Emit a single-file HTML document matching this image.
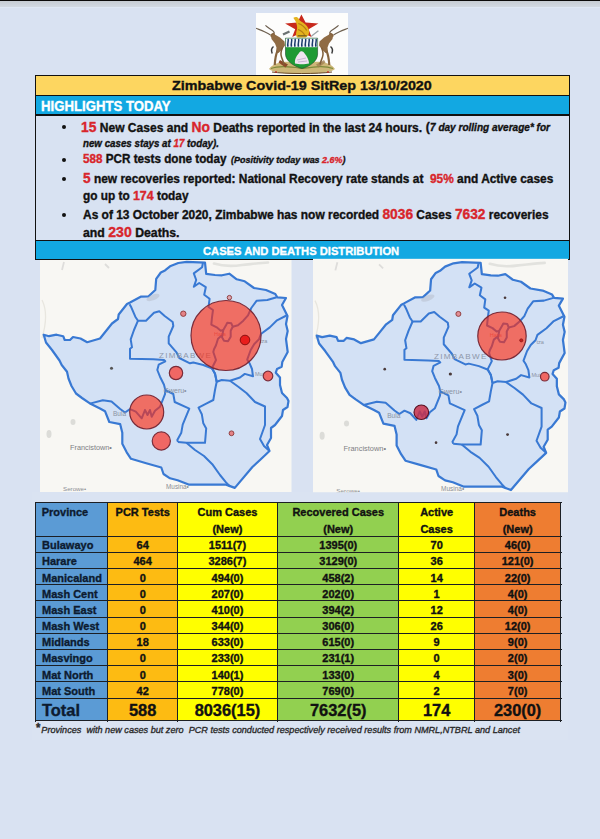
<!DOCTYPE html>
<html><head><meta charset="utf-8"><style>
html,body{margin:0;padding:0}
body{width:600px;height:839px;position:relative;overflow:hidden;background:#d9e2f2;font-family:"Liberation Sans",sans-serif;font-weight:bold}
.b{position:absolute}
.t{position:absolute;white-space:nowrap;transform-origin:0 0;-webkit-text-stroke:0.35px currentColor}
.t span span{-webkit-text-stroke:0.35px currentColor}
</style></head><body>
<div class="b" style="left:0;top:0;width:600px;height:1.2px;background:#0b0b0b"></div>
<div class="b" style="left:0;top:1.2px;width:600px;height:5.8px;background:linear-gradient(#c6ccd3,#d2d9e3)"></div>
<div class="b" style="left:0;top:7px;width:600px;height:1px;background:#dfe8f5"></div>
<div class="b" style="left:255.5px;top:13.3px;width:92.5px;height:62px;background:#fdfdfc"></div>
<svg class="b" style="left:255px;top:12px" width="95" height="64" viewBox="0 0 95 64">
<g transform="translate(-255,-12)">
<!-- base scroll -->
<path d="M269,69 C273,63 283,61 292,62 L312,62 C322,61 331,63 335,69 C331,72.5 320,74 302,74 C284,74 273,72.5 269,69 Z" fill="#cdb778"/>
<path d="M271,68.5 C280,65 292,67 302,68.5 C313,67 324,65 333,68.5" stroke="#7d8a3a" stroke-width="1.2" fill="none"/>
<path d="M272,72 C285,74 318,74 332,72" stroke="#6a4a2a" stroke-width="1" fill="none"/>
<path d="M280,60 L288,64.5 L285.5,67.5 L278.5,62.5 Z" fill="#8e4a2a"/>
<path d="M324,60 L316,64.5 L318.5,67.5 L325.5,62.5 Z" fill="#a08050" opacity="0.8"/>
<circle cx="276" cy="72" r="0.9" fill="#c0302a"/><circle cx="328" cy="72" r="0.9" fill="#c0302a"/>
<g>
<path d="M338.6,25.4 C336.5,27 334,29 331.5,30.5 C330.5,31.3 330,32 329.6,33.2" stroke="#6e6050" stroke-width="1.15" fill="none"/>
<path d="M347.9,28.3 C345,29.5 342.5,30.3 339.5,31.8 C337.5,32.8 335.5,33.8 333.5,35" stroke="#6e6050" stroke-width="1.15" fill="none"/>
<ellipse cx="331.3" cy="35" rx="2.6" ry="1.7" transform="rotate(35 331.3 35)" fill="#84633f"/>
<path d="M333,36 L330,34 L324,37.5 L319.5,41.5 L319,45.5 L322,49.5 L325.5,53 L328,52 L327.5,47.5 L329,43.5 L332.5,39 Z" fill="#8f6b44"/>
<path d="M326.5,51 C328,54 328.8,58 329.3,65" stroke="#86643e" stroke-width="2.2" fill="none"/>
<path d="M321.5,47.5 C322.5,50 324,53 322.5,57 C321.5,60 320.5,62 320,64.5" stroke="#7f5e3a" stroke-width="1.5" fill="none"/>
<path d="M330.5,46.5 C332.5,48 332.8,51 331.8,53.5" stroke="#3a3a3a" stroke-width="1.5" fill="none"/>
</g>
<g transform="translate(604,0) scale(-1,1)">
<path d="M338.6,25.4 C336.5,27 334,29 331.5,30.5 C330.5,31.3 330,32 329.6,33.2" stroke="#6e6050" stroke-width="1.15" fill="none"/>
<path d="M347.9,28.3 C345,29.5 342.5,30.3 339.5,31.8 C337.5,32.8 335.5,33.8 333.5,35" stroke="#6e6050" stroke-width="1.15" fill="none"/>
<ellipse cx="331.3" cy="35" rx="2.6" ry="1.7" transform="rotate(35 331.3 35)" fill="#84633f"/>
<path d="M333,36 L330,34 L324,37.5 L319.5,41.5 L319,45.5 L322,49.5 L325.5,53 L328,52 L327.5,47.5 L329,43.5 L332.5,39 Z" fill="#8f6b44"/>
<path d="M326.5,51 C328,54 328.8,58 329.3,65" stroke="#86643e" stroke-width="2.2" fill="none"/>
<path d="M321.5,47.5 C322.5,50 324,53 322.5,57 C321.5,60 320.5,62 320,64.5" stroke="#7f5e3a" stroke-width="1.5" fill="none"/>
<path d="M330.5,46.5 C332.5,48 332.8,51 331.8,53.5" stroke="#3a3a3a" stroke-width="1.5" fill="none"/>
</g>
<!-- hoe & rifle -->
<path d="M283,34.5 L289.5,31.5" stroke="#6c7272" stroke-width="2.4" fill="none"/>
<path d="M311.3,36.3 L318.4,30.8" stroke="#9aa2a6" stroke-width="1.3" fill="none"/>
<!-- star -->
<polygon points="301.4,14.5 305.6,22.6 318.4,23.5 308.6,29.2 311.5,37 301.8,32.5 292.2,37 295.2,29.2 285.1,23.5 297.4,22.6" fill="#c8291c"/>
<!-- bird -->
<g transform="translate(301.4,0) scale(1.3,1) translate(-301.4,0)">
<path d="M295.3,17.8 C296.5,16.5 298.5,16.6 299.2,18.5 C299.6,20 300.5,21 302.5,22.5 C305,24.5 307,27.5 307.3,31 C307.5,34 306.5,36.5 304.5,37.5 L298,37.5 C296.8,35.5 297.2,32.5 298,29.5 C298.4,27 297.8,24 297,21.5 C296.5,20 295.5,19 295.3,17.8 Z" fill="#e4b31e"/>
<path d="M299,23.5 C301.5,24.5 304,27 305.5,30.5 M298.8,29.5 C301,30.5 303,32.5 304,35.5" stroke="#b47c14" stroke-width="0.9" fill="none"/>
<path d="M298.5,35.8 L305.5,35.8" stroke="#6e5a1e" stroke-width="1.2"/>
</g>
<!-- shield -->
<path d="M285.5,38.2 L317.6,38.2 L317.6,54 C317.6,61 310,66.5 302,68.4 C294,66.5 285.5,61 285.5,54 Z" fill="#1e9a34" stroke="#1a4a2a" stroke-width="0.6"/>
<rect x="285.8" y="38.5" width="31.5" height="8.7" fill="#f2f6fa"/>
<path d="M288,38.8 c1.1,2 -1.1,4 0,8 M291.5,38.8 c1.1,2 -1.1,4 0,8 M295,38.8 c1.1,2 -1.1,4 0,8 M298.5,38.8 c1.1,2 -1.1,4 0,8 M302,38.8 c1.1,2 -1.1,4 0,8 M305.5,38.8 c1.1,2 -1.1,4 0,8 M309,38.8 c1.1,2 -1.1,4 0,8 M312.5,38.8 c1.1,2 -1.1,4 0,8 M316,38.8 c1.1,2 -1.1,4 0,8" stroke="#1b3a6c" stroke-width="1.5" fill="none"/>
<path d="M295,63.5 C294.5,59 296.5,56 299,53 C300,51 302,50.5 303.5,52 C306,55 309,59 309,63.5 C305,64.5 299,64.5 295,63.5 Z" fill="#eee4f0"/>
<path d="M297,60 L306,58 M298,62 L307,61" stroke="#b8a0c8" stroke-width="0.7"/>
</g>
</svg>

<!-- highlights box -->
<div class="b" style="left:35.3px;top:75.3px;width:534px;height:184px;background:#d8e2f2"></div>
<div class="b" style="left:35.3px;top:75.3px;width:534px;height:19.5px;background:#fdd660"></div>
<div class="b" style="left:35.3px;top:95.5px;width:534px;height:19px;background:#12a8e2"></div>
<div class="b" style="left:35.3px;top:241px;width:534px;height:17.8px;background:#12a8e2"></div>
<div class="b" style="left:34.8px;top:74.6px;width:535px;height:1.5px;background:#111"></div>
<div class="b" style="left:34.8px;top:94.6px;width:535px;height:1.3px;background:#111"></div>
<div class="b" style="left:34.8px;top:114.4px;width:535px;height:1.3px;background:#111"></div>
<div class="b" style="left:34.8px;top:240.2px;width:535px;height:1.3px;background:#111"></div>
<div class="b" style="left:34.8px;top:258.6px;width:535px;height:1.4px;background:#111"></div>
<div class="b" style="left:34.8px;top:74.6px;width:1.5px;height:185.4px;background:#111"></div>
<div class="b" style="left:568.5px;top:74.6px;width:1.5px;height:185.4px;background:#111"></div>
<div class="b" style="left:62.2px;top:125.2px;width:4.2px;height:4.2px;border-radius:50%;background:#111"></div>
<div class="b" style="left:61.9px;top:158.1px;width:4.2px;height:4.2px;border-radius:50%;background:#111"></div>
<div class="b" style="left:62.2px;top:176.7px;width:4.2px;height:4.2px;border-radius:50%;background:#111"></div>
<div class="b" style="left:62.2px;top:212.5px;width:4.2px;height:4.2px;border-radius:50%;background:#111"></div>
<div class="b" style="left:32px;top:492px;width:536px;height:248px;background:#dae3f2"></div>
<svg class="b" style="left:0;top:0" width="600" height="839" viewBox="0 0 600 839">
<svg x="40" y="260" width="251.5" height="232" viewBox="40 260 251.5 232" preserveAspectRatio="none"><rect x="40" y="258" width="252" height="234" fill="#f8f7f3"/>
<path d="M214,263.5 C222,266 232,266.5 242,265 C252,264 260,263 268,262.5" stroke="#e2e2de" stroke-width="2.6" fill="none" stroke-linecap="round"/>
<path d="M42,300 C48,312 45,328 42,338" stroke="#e8e6df" stroke-width="1.3" fill="none"/>
<ellipse cx="49" cy="434" rx="2.5" ry="4" fill="#dcdcd8"/>
<ellipse cx="73" cy="422" rx="2.5" ry="3" fill="#dcdcd8"/>
<path d="M64,262 L62,270 M105,264 L109,268" stroke="#dedddb" stroke-width="1.8"/>
<polygon points="43.7,334.7 49.0,336.2 56.5,334.7 63.2,336.2 64.7,340.0 70.0,340.0 73.0,337.0 80.5,338.5 87.2,342.2 100.0,338.5 106.0,331.0 112.0,323.5 118.0,319.0 118.7,314.5 127.0,304.0 130.0,302.5 140.7,296.7 148.3,296.5 155.3,290.0 156.2,278.8 160.8,272.5 165.0,270.4 170.0,266.3 178.3,263.0 186.7,261.8 205.0,262.6 206.2,273.8 215.0,275.0 222.0,275.3 229.3,273.7 236.7,279.3 244.7,281.3 254.0,288.0 266.0,290.0 275.3,294.0 277.3,297.3 286.0,298.0 282.0,305.0 287.5,316.0 286.0,324.0 287.7,331.0 286.0,339.0 287.7,352.0 282.3,362.0 281.7,366.7 277.0,369.0 275.8,372.7 280.0,377.5 280.0,385.0 282.0,393.0 287.0,398.0 288.5,401.0 287.5,407.0 283.0,410.0 282.0,416.0 275.0,425.0 271.0,428.0 271.0,438.0 267.0,445.0 269.5,451.0 260.0,460.0 252.4,467.0 234.8,487.9 226.0,484.6 204.0,484.6 188.6,484.6 177.6,480.2 170.0,478.3 163.5,474.0 161.3,467.5 146.2,463.2 131.0,458.8 126.7,452.3 122.3,443.7 122.3,432.8 120.2,424.2 109.3,422.0 105.0,411.2 100.0,408.5 89.5,403.2 82.0,398.0 76.0,393.5 71.5,386.0 68.5,378.5 67.0,371.7 61.7,365.0 59.5,360.5 52.0,350.0 46.0,342.5" fill="#d3e1f5" stroke="#3979d3" stroke-width="2.2" stroke-linejoin="round"/>
<ellipse cx="153" cy="297.5" rx="7" ry="2.8" transform="rotate(-22 153 297.5)" fill="#b8c0cc" opacity="0.55"/>
<polyline points="129.6,304.2 131.3,307.3 135.3,316.7 138.0,320.7 146.0,320.7 154.0,312.7 159.3,311.3 164.7,316.0 172.7,322.0 173.3,326.0 168.7,336.7 168.7,343.3 176.7,352.7 179.3,358.0 190.0,363.3 193.3,362.5 203.3,365.0 211.7,368.3 215.0,373.3 216.7,381.7" fill="none" stroke="#3979d3" stroke-width="2.0" stroke-linejoin="round"/>
<polyline points="138.0,320.7 134.0,330.0 130.7,339.3 132.0,347.3 130.0,348.7 130.0,358.7 153.3,359.3 164.0,360.0 165.3,361.3 158.7,364.7 157.3,370.0 160.0,376.7 164.0,384.7 165.3,390.0 165.0,394.2 161.7,402.5 160.0,406.7 155.0,410.8 151.7,416.7 150.0,410.0 147.5,415.0 145.0,410.0 141.7,418.3 135.8,411.7 130.0,409.2 125.0,412.5 120.2,409.0 111.5,401.4 102.8,400.3 89.8,403.6" fill="none" stroke="#3979d3" stroke-width="2.0" stroke-linejoin="round"/>
<polyline points="202.9,263.0 202.1,267.2 193.8,273.4 196.2,280.0 193.8,286.8 199.2,283.0 205.8,287.2 204.2,294.7 209.6,298.8 208.5,307.0 213.0,310.0 212.0,317.3 211.3,324.7 216.7,327.3 220.7,330.7 223.3,330.0" fill="none" stroke="#3979d3" stroke-width="2.0" stroke-linejoin="round"/>
<polyline points="223.3,330.0 226.0,325.3 227.3,322.7 231.3,323.3 232.7,326.7 230.7,330.7 230.7,336.7 228.0,341.3 224.0,340.7 222.0,337.3 222.7,333.3 223.3,330.0" fill="none" stroke="#3979d3" stroke-width="2.0" stroke-linejoin="round"/>
<polyline points="222.0,335.3 218.0,338.7 216.0,345.3 214.0,349.3 213.3,352.0 216.0,360.0 212.0,368.0 215.0,374.0 216.7,381.7" fill="none" stroke="#3979d3" stroke-width="2.0" stroke-linejoin="round"/>
<polyline points="232.7,326.7 238.0,325.3 243.3,320.7 248.0,315.3 251.3,308.0 256.7,300.7 267.3,300.0 276.7,297.3" fill="none" stroke="#3979d3" stroke-width="2.0" stroke-linejoin="round"/>
<polyline points="286.5,315.5 277.0,320.3 269.8,327.4 260.9,334.0 259.0,339.3 254.3,344.0 250.7,350.0 247.2,359.6 249.5,363.2 252.0,369.0 253.0,376.3 244.8,373.9 240.0,377.5 230.0,380.8 221.7,380.0 216.7,381.7" fill="none" stroke="#3979d3" stroke-width="2.0" stroke-linejoin="round"/>
<polyline points="216.7,381.7 215.0,390.0 213.3,400.0 206.7,403.3 198.5,407.6 201.8,414.2 203.3,423.3 206.2,428.5 205.0,442.8 186.4,442.8 178.0,442.0" fill="none" stroke="#3979d3" stroke-width="2.0" stroke-linejoin="round"/>
<polyline points="186.4,442.8 195.0,450.0 204.0,456.0 212.8,464.8 220.0,475.0 226.0,482.4 230.0,486.5" fill="none" stroke="#3979d3" stroke-width="2.0" stroke-linejoin="round"/>
<polyline points="165.3,390.0 173.3,394.0 174.7,402.0 189.3,408.7 182.7,424.7 181.3,432.7 177.3,440.0 178.0,442.0" fill="none" stroke="#3979d3" stroke-width="2.0" stroke-linejoin="round"/>
<polyline points="230.0,380.8 238.3,386.7 246.7,393.3 255.0,402.0 265.0,406.5 265.0,425.0 260.0,439.0 264.0,446.0 269.5,451.0" fill="none" stroke="#3979d3" stroke-width="2.0" stroke-linejoin="round"/>
<g font-family="Liberation Sans" font-weight="normal" fill="#8d8f93">
<text x="159" y="358" font-size="8" fill="#8e98aa" letter-spacing="1.3">ZIMBABWE</text>
<text x="70" y="449.5" font-size="7.3" fill="#7e8084">Francistown•</text>
<text x="63" y="491" font-size="6.2">Serowe•</text>
<text x="166" y="489" font-size="6.4">Musina•</text>
<text x="163.5" y="392.5" font-size="7" fill="#8a93a3">Gweru•</text>
<text x="113" y="416" font-size="6.5" fill="#8a93a3">Bula</text>
<text x="260" y="343" font-size="5.5" fill="#8a93a3">tza</text>
<text x="255" y="376" font-size="5.5" fill="#8a93a3">Mut</text>
<text x="214" y="336" font-size="5.5" fill="#c04a5a" opacity="0.6">Hara</text>
</g>
<circle cx="226" cy="335.5" r="35" fill="#ff2a10" fill-opacity="0.63" stroke="#7a2c3a" stroke-width="1.2"/>
<circle cx="245" cy="340" r="4.8" fill="#e81818" fill-opacity="0.95" stroke="#8a1010" stroke-width="1"/>
<circle cx="229.4" cy="297.6" r="2.2" fill="#e86b6b" fill-opacity="0.5" stroke="#8a3535" stroke-width="0.9"/>
<circle cx="183.3" cy="313.7" r="2.7" fill="#e86b6b" fill-opacity="0.8" stroke="#8a3535" stroke-width="0.9"/>
<circle cx="176" cy="373" r="6.7" fill="#ff2818" fill-opacity="0.66" stroke="#7a2c3a" stroke-width="1.2"/>
<circle cx="268" cy="376" r="4.8" fill="#ff2818" fill-opacity="0.66" stroke="#7a2c3a" stroke-width="1.2"/>
<circle cx="146.7" cy="412" r="17" fill="#ff2a10" fill-opacity="0.63" stroke="#7a2c3a" stroke-width="1.2"/>
<circle cx="161.3" cy="441" r="9.1" fill="#ff2818" fill-opacity="0.66" stroke="#7a2c3a" stroke-width="1.2"/>
<circle cx="231.5" cy="433.3" r="2.4" fill="#e86b6b" fill-opacity="0.8" stroke="#8a3535" stroke-width="0.9"/>
<circle cx="111.5" cy="368.3" r="1.5" fill="#555"/></svg>
<svg x="313" y="258.7" width="255.016" height="233.642" viewBox="40 258.413 251 231.787" preserveAspectRatio="none"><rect x="40" y="258" width="252" height="234" fill="#f8f7f3"/>
<path d="M214,263.5 C222,266 232,266.5 242,265 C252,264 260,263 268,262.5" stroke="#e2e2de" stroke-width="2.6" fill="none" stroke-linecap="round"/>
<path d="M42,300 C48,312 45,328 42,338" stroke="#e8e6df" stroke-width="1.3" fill="none"/>
<ellipse cx="49" cy="434" rx="2.5" ry="4" fill="#dcdcd8"/>
<ellipse cx="73" cy="422" rx="2.5" ry="3" fill="#dcdcd8"/>
<path d="M64,262 L62,270 M105,264 L109,268" stroke="#dedddb" stroke-width="1.8"/>
<polygon points="43.7,334.7 49.0,336.2 56.5,334.7 63.2,336.2 64.7,340.0 70.0,340.0 73.0,337.0 80.5,338.5 87.2,342.2 100.0,338.5 106.0,331.0 112.0,323.5 118.0,319.0 118.7,314.5 127.0,304.0 130.0,302.5 140.7,296.7 148.3,296.5 155.3,290.0 156.2,278.8 160.8,272.5 165.0,270.4 170.0,266.3 178.3,263.0 186.7,261.8 205.0,262.6 206.2,273.8 215.0,275.0 222.0,275.3 229.3,273.7 236.7,279.3 244.7,281.3 254.0,288.0 266.0,290.0 275.3,294.0 277.3,297.3 286.0,298.0 282.0,305.0 287.5,316.0 286.0,324.0 287.7,331.0 286.0,339.0 287.7,352.0 282.3,362.0 281.7,366.7 277.0,369.0 275.8,372.7 280.0,377.5 280.0,385.0 282.0,393.0 287.0,398.0 288.5,401.0 287.5,407.0 283.0,410.0 282.0,416.0 275.0,425.0 271.0,428.0 271.0,438.0 267.0,445.0 269.5,451.0 260.0,460.0 252.4,467.0 234.8,487.9 226.0,484.6 204.0,484.6 188.6,484.6 177.6,480.2 170.0,478.3 163.5,474.0 161.3,467.5 146.2,463.2 131.0,458.8 126.7,452.3 122.3,443.7 122.3,432.8 120.2,424.2 109.3,422.0 105.0,411.2 100.0,408.5 89.5,403.2 82.0,398.0 76.0,393.5 71.5,386.0 68.5,378.5 67.0,371.7 61.7,365.0 59.5,360.5 52.0,350.0 46.0,342.5" fill="#d3e1f5" stroke="#3979d3" stroke-width="2.2" stroke-linejoin="round"/>
<ellipse cx="153" cy="297.5" rx="7" ry="2.8" transform="rotate(-22 153 297.5)" fill="#b8c0cc" opacity="0.55"/>
<polyline points="129.6,304.2 131.3,307.3 135.3,316.7 138.0,320.7 146.0,320.7 154.0,312.7 159.3,311.3 164.7,316.0 172.7,322.0 173.3,326.0 168.7,336.7 168.7,343.3 176.7,352.7 179.3,358.0 190.0,363.3 193.3,362.5 203.3,365.0 211.7,368.3 215.0,373.3 216.7,381.7" fill="none" stroke="#3979d3" stroke-width="2.0" stroke-linejoin="round"/>
<polyline points="138.0,320.7 134.0,330.0 130.7,339.3 132.0,347.3 130.0,348.7 130.0,358.7 153.3,359.3 164.0,360.0 165.3,361.3 158.7,364.7 157.3,370.0 160.0,376.7 164.0,384.7 165.3,390.0 165.0,394.2 161.7,402.5 160.0,406.7 155.0,410.8 151.7,416.7 150.0,410.0 147.5,415.0 145.0,410.0 141.7,418.3 135.8,411.7 130.0,409.2 125.0,412.5 120.2,409.0 111.5,401.4 102.8,400.3 89.8,403.6" fill="none" stroke="#3979d3" stroke-width="2.0" stroke-linejoin="round"/>
<polyline points="202.9,263.0 202.1,267.2 193.8,273.4 196.2,280.0 193.8,286.8 199.2,283.0 205.8,287.2 204.2,294.7 209.6,298.8 208.5,307.0 213.0,310.0 212.0,317.3 211.3,324.7 216.7,327.3 220.7,330.7 223.3,330.0" fill="none" stroke="#3979d3" stroke-width="2.0" stroke-linejoin="round"/>
<polyline points="223.3,330.0 226.0,325.3 227.3,322.7 231.3,323.3 232.7,326.7 230.7,330.7 230.7,336.7 228.0,341.3 224.0,340.7 222.0,337.3 222.7,333.3 223.3,330.0" fill="none" stroke="#3979d3" stroke-width="2.0" stroke-linejoin="round"/>
<polyline points="222.0,335.3 218.0,338.7 216.0,345.3 214.0,349.3 213.3,352.0 216.0,360.0 212.0,368.0 215.0,374.0 216.7,381.7" fill="none" stroke="#3979d3" stroke-width="2.0" stroke-linejoin="round"/>
<polyline points="232.7,326.7 238.0,325.3 243.3,320.7 248.0,315.3 251.3,308.0 256.7,300.7 267.3,300.0 276.7,297.3" fill="none" stroke="#3979d3" stroke-width="2.0" stroke-linejoin="round"/>
<polyline points="286.5,315.5 277.0,320.3 269.8,327.4 260.9,334.0 259.0,339.3 254.3,344.0 250.7,350.0 247.2,359.6 249.5,363.2 252.0,369.0 253.0,376.3 244.8,373.9 240.0,377.5 230.0,380.8 221.7,380.0 216.7,381.7" fill="none" stroke="#3979d3" stroke-width="2.0" stroke-linejoin="round"/>
<polyline points="216.7,381.7 215.0,390.0 213.3,400.0 206.7,403.3 198.5,407.6 201.8,414.2 203.3,423.3 206.2,428.5 205.0,442.8 186.4,442.8 178.0,442.0" fill="none" stroke="#3979d3" stroke-width="2.0" stroke-linejoin="round"/>
<polyline points="186.4,442.8 195.0,450.0 204.0,456.0 212.8,464.8 220.0,475.0 226.0,482.4 230.0,486.5" fill="none" stroke="#3979d3" stroke-width="2.0" stroke-linejoin="round"/>
<polyline points="165.3,390.0 173.3,394.0 174.7,402.0 189.3,408.7 182.7,424.7 181.3,432.7 177.3,440.0 178.0,442.0" fill="none" stroke="#3979d3" stroke-width="2.0" stroke-linejoin="round"/>
<polyline points="230.0,380.8 238.3,386.7 246.7,393.3 255.0,402.0 265.0,406.5 265.0,425.0 260.0,439.0 264.0,446.0 269.5,451.0" fill="none" stroke="#3979d3" stroke-width="2.0" stroke-linejoin="round"/>
<g font-family="Liberation Sans" font-weight="normal" fill="#8d8f93">
<text x="159" y="358" font-size="8" fill="#8e98aa" letter-spacing="1.3">ZIMBABWE</text>
<text x="70" y="449.5" font-size="7.3" fill="#7e8084">Francistown•</text>
<text x="63" y="491" font-size="6.2">Serowe•</text>
<text x="166" y="489" font-size="6.4">Musina•</text>
<text x="163.5" y="392.5" font-size="7" fill="#8a93a3">Gweru•</text>
<text x="113" y="416" font-size="6.5" fill="#8a93a3">Bula</text>
<text x="260" y="343" font-size="5.5" fill="#8a93a3">tza</text>
<text x="255" y="376" font-size="5.5" fill="#8a93a3">Mut</text>
<text x="214" y="336" font-size="5.5" fill="#c04a5a" opacity="0.6">Hara</text>
</g>
<circle cx="226.0" cy="335.1" r="23.82" fill="#ff2a10" fill-opacity="0.63" stroke="#7a2c3a" stroke-width="1.2"/>
<circle cx="146.6" cy="410.8" r="7.19" fill="#c8304a" fill-opacity="0.85" stroke="#5a1020" stroke-width="1.1"/>
<circle cx="268.1" cy="375.5" r="4.23" fill="#ff2818" fill-opacity="0.66" stroke="#7a2c3a" stroke-width="1.2"/>
<circle cx="183.1" cy="313.2" r="2.46" fill="#e86b6b" fill-opacity="0.7" stroke="#8a3535" stroke-width="0.9"/>
<circle cx="245.0" cy="339.4" r="1.57" fill="#c01818" fill-opacity="0.9" stroke="#801010" stroke-width="0.6"/>
<circle cx="229.0" cy="297.1" r="1.3" fill="#4a3a3a"/>
<circle cx="175.2" cy="372.8" r="1.6" fill="#4a3a3a"/>
<circle cx="110.6" cy="368.0" r="1.3" fill="#4a3a3a"/>
<circle cx="231.5" cy="432.9" r="1.4" fill="#4a3a3a"/>
<circle cx="161.1" cy="440.9" r="1.3" fill="#4a3a3a"/></svg>
</svg>
<div class="b" style="left:35.5px;top:503px;width:72.5px;height:218px;background:#5b9bd5"></div>
<div class="b" style="left:108px;top:503px;width:69.4px;height:218px;background:#fdbb12"></div>
<div class="b" style="left:177.4px;top:503px;width:100.1px;height:218px;background:#ffff00"></div>
<div class="b" style="left:277.5px;top:503px;width:121.5px;height:218px;background:#92d050"></div>
<div class="b" style="left:399px;top:503px;width:75.30000000000001px;height:218px;background:#ffff00"></div>
<div class="b" style="left:474.3px;top:503px;width:86.69999999999999px;height:218px;background:#ee7d31"></div>
<div class="b" style="left:34.8px;top:502px;width:526.9px;height:1.45px;background:#1c1f24"></div>
<div class="b" style="left:34.8px;top:536px;width:526.9px;height:1.45px;background:#1c1f24"></div>
<div class="b" style="left:34.8px;top:552px;width:526.9px;height:1.45px;background:#1c1f24"></div>
<div class="b" style="left:34.8px;top:568px;width:526.9px;height:1.45px;background:#1c1f24"></div>
<div class="b" style="left:34.8px;top:584px;width:526.9px;height:1.45px;background:#1c1f24"></div>
<div class="b" style="left:34.8px;top:600px;width:526.9px;height:1.45px;background:#1c1f24"></div>
<div class="b" style="left:34.8px;top:617px;width:526.9px;height:1.45px;background:#1c1f24"></div>
<div class="b" style="left:34.8px;top:633px;width:526.9px;height:1.45px;background:#1c1f24"></div>
<div class="b" style="left:34.8px;top:649px;width:526.9px;height:1.45px;background:#1c1f24"></div>
<div class="b" style="left:34.8px;top:665px;width:526.9px;height:1.45px;background:#1c1f24"></div>
<div class="b" style="left:34.8px;top:681px;width:526.9px;height:1.45px;background:#1c1f24"></div>
<div class="b" style="left:34.8px;top:698px;width:526.9px;height:1.45px;background:#1c1f24"></div>
<div class="b" style="left:34.8px;top:720px;width:526.9px;height:1.45px;background:#1c1f24"></div>
<div class="b" style="left:35px;top:502.3px;width:1.45px;height:219.4px;background:#1c1f24"></div>
<div class="b" style="left:107px;top:502.3px;width:1.45px;height:219.4px;background:#1c1f24"></div>
<div class="b" style="left:177px;top:502.3px;width:1.45px;height:219.4px;background:#1c1f24"></div>
<div class="b" style="left:277px;top:502.3px;width:1.45px;height:219.4px;background:#1c1f24"></div>
<div class="b" style="left:398px;top:502.3px;width:1.45px;height:219.4px;background:#1c1f24"></div>
<div class="b" style="left:474px;top:502.3px;width:1.45px;height:219.4px;background:#1c1f24"></div>
<div class="b" style="left:560px;top:502.3px;width:1.45px;height:219.4px;background:#1c1f24"></div>
<div id="title" class="t" style="left:171.80px;top:79.09px;font-size:13.6px;line-height:13.6px;transform:scaleX(1.0549);color:#111"><span>Zimbabwe Covid-19 SitRep 13/10/2020</span></div>
<div id="hl" class="t" style="left:41.00px;top:99.62px;font-size:13.8px;line-height:13.8px;transform:scaleX(0.9551);color:#fff"><span>HIGHLIGHTS TODAY</span></div>
<div id="cd" class="t" style="left:203.10px;top:245.61px;font-size:11.8px;line-height:11.8px;transform:scaleX(0.9473);color:#fff"><span>CASES AND DEATHS DISTRIBUTION</span></div>
<div id="l1a" class="t" style="left:81.40px;top:120.57px;font-size:12.2px;line-height:12.2px;transform:scaleX(0.9884);color:#111"><span><span style="color:#d8262c;font-size:14.0px">15</span> New Cases and <span style="color:#d8262c;font-size:14.0px">No</span> Deaths reported in the last 24 hours.</span></div>
<div id="l1b" class="t" style="left:425.80px;top:120.87px;font-size:12.2px;line-height:12.2px;color:#111"><span>(</span></div>
<div id="l1c" class="t" style="left:429.80px;top:122.87px;font-size:10.2px;line-height:10.2px;transform:scaleX(0.9858);color:#111;font-style:italic"><span>7 day rolling average* for</span></div>
<div id="l2" class="t" style="left:83.00px;top:138.67px;font-size:10.2px;line-height:10.2px;transform:scaleX(0.9567);color:#111;font-style:italic"><span>new cases stays at <span style="color:#d8262c">17</span> today).</span></div>
<div id="l3a" class="t" style="left:82.80px;top:153.27px;font-size:12.2px;line-height:12.2px;transform:scaleX(0.9587);color:#111"><span><span style="color:#d8262c">588</span> PCR tests done today</span></div>
<div id="l3b" class="t" style="left:230.50px;top:155.81px;font-size:9.2px;line-height:9.2px;transform:scaleX(0.9749);color:#111;font-style:italic"><span>(Positivity today was <span style="color:#d8262c">2.6%</span>)</span></div>
<div id="l4" class="t" style="left:82.50px;top:171.57px;font-size:12.2px;line-height:12.2px;transform:scaleX(0.9766);color:#111"><span><span style="color:#d8262c;font-size:14.0px">5</span> new recoveries reported: National Recovery rate stands at &nbsp;<span style="color:#d8262c">95%</span> and Active cases</span></div>
<div id="l5" class="t" style="left:82.50px;top:189.67px;font-size:12.2px;line-height:12.2px;transform:scaleX(0.9705);color:#111"><span>go up to <span style="color:#d8262c;font-size:12.8px">174</span> today</span></div>
<div id="l6" class="t" style="left:82.50px;top:207.77px;font-size:12.2px;line-height:12.2px;transform:scaleX(0.9804);color:#111"><span>As of 13 October 2020, Zimbabwe has now recorded <span style="color:#d8262c;font-size:14.0px">8036</span> Cases <span style="color:#d8262c;font-size:14.0px">7632</span> recoveries</span></div>
<div id="l7" class="t" style="left:82.50px;top:226.17px;font-size:12.2px;line-height:12.2px;transform:scaleX(1.0068);color:#111"><span>and <span style="color:#d8262c;font-size:14.0px">230</span> Deaths.</span></div>
<div id="p0" class="t" style="left:42.00px;top:540.29px;font-size:11px;line-height:11px;color:#0d1b30"><span>Bulawayo</span></div>
<div id="d0_1" class="t" style="left:42.70px;top:540.29px;width:200px;text-align:center;font-size:11px;line-height:11px;color:#111"><span>64</span></div>
<div id="d0_2" class="t" style="left:127.45px;top:540.29px;width:200px;text-align:center;font-size:11px;line-height:11px;color:#111"><span>1511(7)</span></div>
<div id="d0_3" class="t" style="left:238.25px;top:540.29px;width:200px;text-align:center;font-size:11px;line-height:11px;color:#111"><span>1395(0)</span></div>
<div id="d0_4" class="t" style="left:336.65px;top:540.29px;width:200px;text-align:center;font-size:11px;line-height:11px;color:#111"><span>70</span></div>
<div id="d0_5" class="t" style="left:417.65px;top:540.29px;width:200px;text-align:center;font-size:11px;line-height:11px;color:#111"><span>46(0)</span></div>
<div id="p1" class="t" style="left:42.00px;top:556.46px;font-size:11px;line-height:11px;color:#0d1b30"><span>Harare</span></div>
<div id="d1_1" class="t" style="left:42.70px;top:556.46px;width:200px;text-align:center;font-size:11px;line-height:11px;color:#111"><span>464</span></div>
<div id="d1_2" class="t" style="left:127.45px;top:556.46px;width:200px;text-align:center;font-size:11px;line-height:11px;color:#111"><span>3286(7)</span></div>
<div id="d1_3" class="t" style="left:238.25px;top:556.46px;width:200px;text-align:center;font-size:11px;line-height:11px;color:#111"><span>3129(0)</span></div>
<div id="d1_4" class="t" style="left:336.65px;top:556.46px;width:200px;text-align:center;font-size:11px;line-height:11px;color:#111"><span>36</span></div>
<div id="d1_5" class="t" style="left:417.65px;top:556.46px;width:200px;text-align:center;font-size:11px;line-height:11px;color:#111"><span>121(0)</span></div>
<div id="p2" class="t" style="left:42.00px;top:572.63px;font-size:11px;line-height:11px;color:#0d1b30"><span>Manicaland</span></div>
<div id="d2_1" class="t" style="left:42.70px;top:572.63px;width:200px;text-align:center;font-size:11px;line-height:11px;color:#111"><span>0</span></div>
<div id="d2_2" class="t" style="left:127.45px;top:572.63px;width:200px;text-align:center;font-size:11px;line-height:11px;color:#111"><span>494(0)</span></div>
<div id="d2_3" class="t" style="left:238.25px;top:572.63px;width:200px;text-align:center;font-size:11px;line-height:11px;color:#111"><span>458(2)</span></div>
<div id="d2_4" class="t" style="left:336.65px;top:572.63px;width:200px;text-align:center;font-size:11px;line-height:11px;color:#111"><span>14</span></div>
<div id="d2_5" class="t" style="left:417.65px;top:572.63px;width:200px;text-align:center;font-size:11px;line-height:11px;color:#111"><span>22(0)</span></div>
<div id="p3" class="t" style="left:42.00px;top:588.80px;font-size:11px;line-height:11px;color:#0d1b30"><span>Mash Cent</span></div>
<div id="d3_1" class="t" style="left:42.70px;top:588.80px;width:200px;text-align:center;font-size:11px;line-height:11px;color:#111"><span>0</span></div>
<div id="d3_2" class="t" style="left:127.45px;top:588.80px;width:200px;text-align:center;font-size:11px;line-height:11px;color:#111"><span>207(0)</span></div>
<div id="d3_3" class="t" style="left:238.25px;top:588.80px;width:200px;text-align:center;font-size:11px;line-height:11px;color:#111"><span>202(0)</span></div>
<div id="d3_4" class="t" style="left:336.65px;top:588.80px;width:200px;text-align:center;font-size:11px;line-height:11px;color:#111"><span>1</span></div>
<div id="d3_5" class="t" style="left:417.65px;top:588.80px;width:200px;text-align:center;font-size:11px;line-height:11px;color:#111"><span>4(0)</span></div>
<div id="p4" class="t" style="left:42.00px;top:604.97px;font-size:11px;line-height:11px;color:#0d1b30"><span>Mash East</span></div>
<div id="d4_1" class="t" style="left:42.70px;top:604.97px;width:200px;text-align:center;font-size:11px;line-height:11px;color:#111"><span>0</span></div>
<div id="d4_2" class="t" style="left:127.45px;top:604.97px;width:200px;text-align:center;font-size:11px;line-height:11px;color:#111"><span>410(0)</span></div>
<div id="d4_3" class="t" style="left:238.25px;top:604.97px;width:200px;text-align:center;font-size:11px;line-height:11px;color:#111"><span>394(2)</span></div>
<div id="d4_4" class="t" style="left:336.65px;top:604.97px;width:200px;text-align:center;font-size:11px;line-height:11px;color:#111"><span>12</span></div>
<div id="d4_5" class="t" style="left:417.65px;top:604.97px;width:200px;text-align:center;font-size:11px;line-height:11px;color:#111"><span>4(0)</span></div>
<div id="p5" class="t" style="left:42.00px;top:621.14px;font-size:11px;line-height:11px;color:#0d1b30"><span>Mash West</span></div>
<div id="d5_1" class="t" style="left:42.70px;top:621.14px;width:200px;text-align:center;font-size:11px;line-height:11px;color:#111"><span>0</span></div>
<div id="d5_2" class="t" style="left:127.45px;top:621.14px;width:200px;text-align:center;font-size:11px;line-height:11px;color:#111"><span>344(0)</span></div>
<div id="d5_3" class="t" style="left:238.25px;top:621.14px;width:200px;text-align:center;font-size:11px;line-height:11px;color:#111"><span>306(0)</span></div>
<div id="d5_4" class="t" style="left:336.65px;top:621.14px;width:200px;text-align:center;font-size:11px;line-height:11px;color:#111"><span>26</span></div>
<div id="d5_5" class="t" style="left:417.65px;top:621.14px;width:200px;text-align:center;font-size:11px;line-height:11px;color:#111"><span>12(0)</span></div>
<div id="p6" class="t" style="left:42.00px;top:637.31px;font-size:11px;line-height:11px;color:#0d1b30"><span>Midlands</span></div>
<div id="d6_1" class="t" style="left:42.70px;top:637.31px;width:200px;text-align:center;font-size:11px;line-height:11px;color:#111"><span>18</span></div>
<div id="d6_2" class="t" style="left:127.45px;top:637.31px;width:200px;text-align:center;font-size:11px;line-height:11px;color:#111"><span>633(0)</span></div>
<div id="d6_3" class="t" style="left:238.25px;top:637.31px;width:200px;text-align:center;font-size:11px;line-height:11px;color:#111"><span>615(0)</span></div>
<div id="d6_4" class="t" style="left:336.65px;top:637.31px;width:200px;text-align:center;font-size:11px;line-height:11px;color:#111"><span>9</span></div>
<div id="d6_5" class="t" style="left:417.65px;top:637.31px;width:200px;text-align:center;font-size:11px;line-height:11px;color:#111"><span>9(0)</span></div>
<div id="p7" class="t" style="left:42.00px;top:653.48px;font-size:11px;line-height:11px;color:#0d1b30"><span>Masvingo</span></div>
<div id="d7_1" class="t" style="left:42.70px;top:653.48px;width:200px;text-align:center;font-size:11px;line-height:11px;color:#111"><span>0</span></div>
<div id="d7_2" class="t" style="left:127.45px;top:653.48px;width:200px;text-align:center;font-size:11px;line-height:11px;color:#111"><span>233(0)</span></div>
<div id="d7_3" class="t" style="left:238.25px;top:653.48px;width:200px;text-align:center;font-size:11px;line-height:11px;color:#111"><span>231(1)</span></div>
<div id="d7_4" class="t" style="left:336.65px;top:653.48px;width:200px;text-align:center;font-size:11px;line-height:11px;color:#111"><span>0</span></div>
<div id="d7_5" class="t" style="left:417.65px;top:653.48px;width:200px;text-align:center;font-size:11px;line-height:11px;color:#111"><span>2(0)</span></div>
<div id="p8" class="t" style="left:42.00px;top:669.65px;font-size:11px;line-height:11px;color:#0d1b30"><span>Mat North</span></div>
<div id="d8_1" class="t" style="left:42.70px;top:669.65px;width:200px;text-align:center;font-size:11px;line-height:11px;color:#111"><span>0</span></div>
<div id="d8_2" class="t" style="left:127.45px;top:669.65px;width:200px;text-align:center;font-size:11px;line-height:11px;color:#111"><span>140(1)</span></div>
<div id="d8_3" class="t" style="left:238.25px;top:669.65px;width:200px;text-align:center;font-size:11px;line-height:11px;color:#111"><span>133(0)</span></div>
<div id="d8_4" class="t" style="left:336.65px;top:669.65px;width:200px;text-align:center;font-size:11px;line-height:11px;color:#111"><span>4</span></div>
<div id="d8_5" class="t" style="left:417.65px;top:669.65px;width:200px;text-align:center;font-size:11px;line-height:11px;color:#111"><span>3(0)</span></div>
<div id="p9" class="t" style="left:42.00px;top:685.82px;font-size:11px;line-height:11px;color:#0d1b30"><span>Mat South</span></div>
<div id="d9_1" class="t" style="left:42.70px;top:685.82px;width:200px;text-align:center;font-size:11px;line-height:11px;color:#111"><span>42</span></div>
<div id="d9_2" class="t" style="left:127.45px;top:685.82px;width:200px;text-align:center;font-size:11px;line-height:11px;color:#111"><span>778(0)</span></div>
<div id="d9_3" class="t" style="left:238.25px;top:685.82px;width:200px;text-align:center;font-size:11px;line-height:11px;color:#111"><span>769(0)</span></div>
<div id="d9_4" class="t" style="left:336.65px;top:685.82px;width:200px;text-align:center;font-size:11px;line-height:11px;color:#111"><span>2</span></div>
<div id="d9_5" class="t" style="left:417.65px;top:685.82px;width:200px;text-align:center;font-size:11px;line-height:11px;color:#111"><span>7(0)</span></div>
<div id="h0" class="t" style="left:41.70px;top:507.19px;font-size:11px;line-height:11px;color:#0d1b30"><span>Province</span></div>
<div id="h1_0" class="t" style="left:42.70px;top:507.19px;width:200px;text-align:center;font-size:11px;line-height:11px;color:#111"><span>PCR Tests</span></div>
<div id="h2_0" class="t" style="left:127.45px;top:507.19px;width:200px;text-align:center;font-size:11px;line-height:11px;color:#111"><span>Cum Cases</span></div>
<div id="h2_1" class="t" style="left:127.45px;top:523.69px;width:200px;text-align:center;font-size:11px;line-height:11px;color:#111"><span>(New)</span></div>
<div id="h3_0" class="t" style="left:238.25px;top:507.19px;width:200px;text-align:center;font-size:11px;line-height:11px;color:#111"><span>Recovered Cases</span></div>
<div id="h3_1" class="t" style="left:238.25px;top:523.69px;width:200px;text-align:center;font-size:11px;line-height:11px;color:#111"><span>(New)</span></div>
<div id="h4_0" class="t" style="left:336.65px;top:507.19px;width:200px;text-align:center;font-size:11px;line-height:11px;color:#111"><span>Active</span></div>
<div id="h4_1" class="t" style="left:336.65px;top:523.69px;width:200px;text-align:center;font-size:11px;line-height:11px;color:#111"><span>Cases</span></div>
<div id="h5_0" class="t" style="left:417.65px;top:507.19px;width:200px;text-align:center;font-size:11px;line-height:11px;color:#111"><span>Deaths</span></div>
<div id="h5_1" class="t" style="left:417.65px;top:523.69px;width:200px;text-align:center;font-size:11px;line-height:11px;color:#111"><span>(New)</span></div>
<div id="t0" class="t" style="left:41.50px;top:702.32px;font-size:16.4px;line-height:16.4px;transform:scaleX(1.0016);color:#0d1b30"><span>Total</span></div>
<div id="t1" class="t" style="left:42.70px;top:702.32px;width:200px;text-align:center;font-size:16.4px;line-height:16.4px;color:#111"><span>588</span></div>
<div id="t2" class="t" style="left:127.45px;top:702.32px;width:200px;text-align:center;font-size:16.4px;line-height:16.4px;color:#111"><span>8036(15)</span></div>
<div id="t3" class="t" style="left:238.25px;top:702.32px;width:200px;text-align:center;font-size:16.4px;line-height:16.4px;color:#111"><span>7632(5)</span></div>
<div id="t4" class="t" style="left:336.65px;top:702.32px;width:200px;text-align:center;font-size:16.4px;line-height:16.4px;color:#111"><span>174</span></div>
<div id="t5" class="t" style="left:417.65px;top:702.32px;width:200px;text-align:center;font-size:16.4px;line-height:16.4px;color:#111"><span>230(0)</span></div>
<div id="foot" class="t" style="left:35.60px;top:724.99px;font-size:9.7px;line-height:9.7px;transform:scaleX(0.9401);color:#2a2a2a;font-weight:normal;font-style:italic"><span><span style="font-style:normal;font-weight:bold;font-size:12px;position:relative;top:-1px;margin-right:1px">*</span>Provinces &nbsp;with new cases but zero &nbsp;PCR tests conducted respectively received results from NMRL,NTBRL and Lancet</span></div>
</body></html>
